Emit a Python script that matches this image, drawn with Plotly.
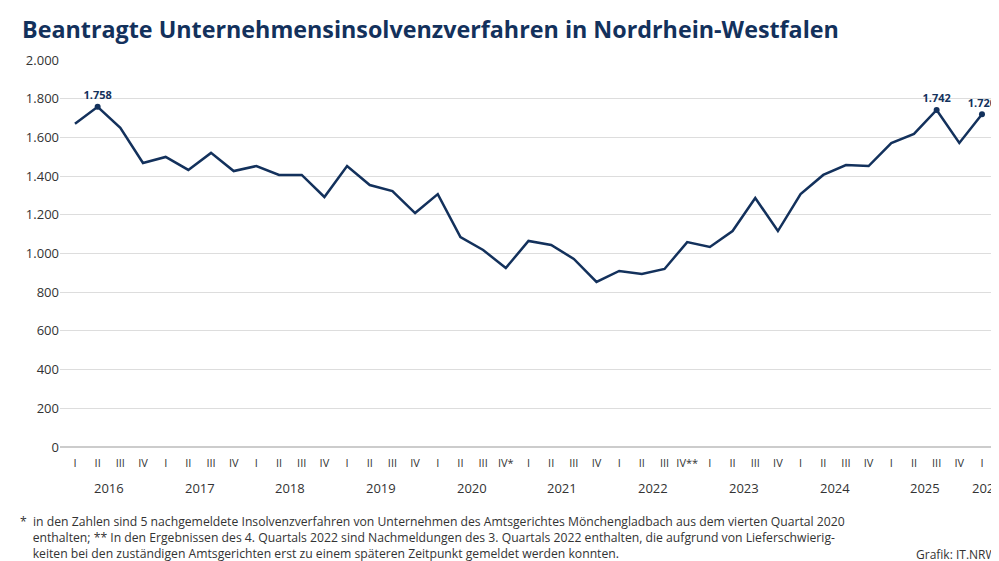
import plotly.graph_objects as go

quarters = ["I","II","III","IV"]*10 + ["I"]
quarters[19] = "IV*"
quarters[27] = "IV**"
years = [str(y) for y in range(2016, 2027)]
values = [1670,1758,1650,1468, 1499,1432,1520,1426, 1452,1406,1406,1292,
          1452,1354,1323,1209, 1307,1085,1018,925, 1065,1044,972,853,
          910,894,920,1059, 1034,1116,1287,1116, 1307,1406,1457,1452,
          1571,1618,1742,1571, 1720]
labeled = {1: "<b>1.758</b>", 38: "<b>1.742</b>", 40: "<b>1.720</b>"}

x = list(range(len(values)))
c = "#13315c"
fig = go.Figure()
fig.add_trace(go.Scatter(x=x, y=values, mode="lines", line=dict(color=c, width=2.5), hoverinfo="skip"))
ks = list(labeled)
fig.add_trace(go.Scatter(x=ks, y=[values[k] for k in ks], mode="markers+text", cliponaxis=False,
    marker=dict(color=c, size=6), text=[labeled[k] for k in ks], textposition="top center",
    textfont=dict(color=c, size=11, family="Open Sans"), hoverinfo="skip"))

for i, yr in enumerate(years):
    xc = i*4 + 1.5 if i < 10 else 40.2
    fig.add_annotation(x=xc, y=-0.106, xref="x", yref="paper", yanchor="middle", text=yr, showarrow=False,
                       font=dict(size=13, color="#333", family="Open Sans"))

fig.add_annotation(x=-0.043, y=1.08, xref="paper", yref="paper", xanchor="left", yanchor="middle",
    text="<b>Beantragte Unternehmensinsolvenzverfahren in Nordrhein-Westfalen</b>", showarrow=False,
    font=dict(size=23.3, color=c, family="Open Sans"))
fig.add_annotation(x=-0.045, y=-0.165, xref="paper", yref="paper", xanchor="left", yanchor="top",
    text="*  in den Zahlen sind 5 nachgemeldete Insolvenzverfahren von Unternehmen des Amtsgerichtes Mönchengladbach aus dem vierten Quartal 2020<br>"
         "    enthalten; ** In den Ergebnissen des 4. Quartals 2022 sind Nachmeldungen des 3. Quartals 2022 enthalten, die aufgrund von Lieferschwierig-<br>"
         "    keiten bei den zuständigen Amtsgerichten erst zu einem späteren Zeitpunkt gemeldet werden konnten.",
    showarrow=False, align="left", font=dict(size=12.2, color="#333", family="Open Sans"))
fig.add_annotation(x=1.0, y=-0.25, xref="paper", yref="paper", xanchor="right", yanchor="top",
    text="Grafik: IT.NRW", showarrow=False, font=dict(size=12, color="#333", family="Open Sans"))

fig.update_layout(
    width=999, height=561, margin=dict(l=52, r=8, t=52, b=122),
    paper_bgcolor="white", plot_bgcolor="white", showlegend=False,
    font=dict(family="Open Sans", color="#333"),
    xaxis=dict(range=[-0.66, 40.75], tickvals=x, ticktext=quarters, showgrid=False,
               zeroline=False, tickfont=dict(size=11), ticks="", ticklabelstandoff=8, fixedrange=True),
    yaxis=dict(range=[0, 2000], tickvals=list(range(0, 2001, 200)),
               ticktext=[f"{v:,}".replace(",", ".") for v in range(0, 2001, 200)],
               gridcolor="#dddddd", zeroline=True, zerolinecolor="#cccccc", tickfont=dict(size=13), ticks=""),
)
fig.write_html("out.html")
